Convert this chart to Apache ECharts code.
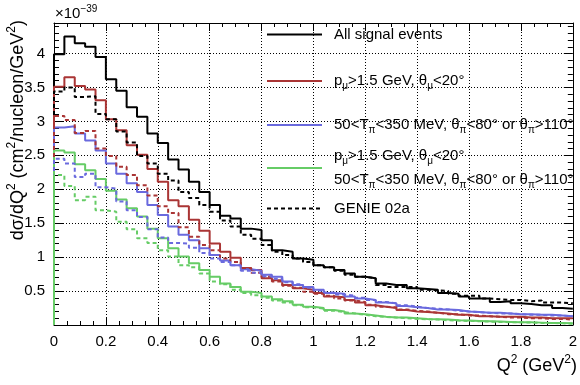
<!DOCTYPE html>
<html>
<head>
<meta charset="utf-8">
<script src="https://cdn.jsdelivr.net/npm/echarts@6/dist/echarts.min.js"></script>
<style>
	html, body { margin: 0; padding: 0; background: #fff; }
	#container { width: 580px; height: 385px; }
</style>
</head>
<body>
<div id="container"></div>
<script>
// Q2 bins: 50 bins of 0.04 GeV2 from 0 to 2
var binWidth = 0.04;
var xTicks = [0, 0.2, 0.4, 0.6, 0.8, 1, 1.2, 1.4, 1.6, 1.8, 2];
var yTicks = [0.5, 1, 1.5, 2, 2.5, 3, 3.5, 4];

// data, x 1e-39 cm2/nucleon/GeV2
var allSignal = [3.99, 4.25, 4.15, 4.10, 3.95, 3.62, 3.45, 3.21, 3.07, 2.82,
	2.68, 2.44, 2.29, 2.11, 1.96, 1.77, 1.61, 1.57, 1.42, 1.40,
	1.25, 1.10, 1.08, 0.98, 0.96, 0.88, 0.85, 0.81, 0.76, 0.71,
	0.69, 0.61, 0.59, 0.59, 0.54, 0.53, 0.52, 0.47, 0.46, 0.42,
	0.39, 0.39, 0.34, 0.35, 0.32, 0.31, 0.29, 0.29, 0.25, 0.24];
var muonCut = [3.51, 3.65, 3.52, 3.47, 3.31, 3.03, 2.87, 2.65, 2.51, 2.30,
	2.11, 1.84, 1.75, 1.55, 1.39, 1.20, 1.08, 0.99, 0.84, 0.81,
	0.69, 0.66, 0.59, 0.54, 0.52, 0.47, 0.42, 0.41, 0.37, 0.33,
	0.29, 0.27, 0.25, 0.22, 0.20, 0.19, 0.18, 0.17, 0.15, 0.15,
	0.13, 0.13, 0.12, 0.12, 0.12, 0.11, 0.11, 0.10, 0.10, 0.10];
var pionCut = [2.91, 2.93, 2.82, 2.72, 2.57, 2.38, 2.23, 2.09, 1.96, 1.77,
	1.62, 1.45, 1.33, 1.25, 1.13, 1.03, 0.95, 0.88, 0.82, 0.80,
	0.74, 0.71, 0.64, 0.59, 0.56, 0.52, 0.47, 0.46, 0.42, 0.39,
	0.37, 0.33, 0.32, 0.28, 0.26, 0.25, 0.23, 0.23, 0.22, 0.20,
	0.19, 0.18, 0.18, 0.17, 0.16, 0.16, 0.15, 0.15, 0.14, 0.13];
var bothCuts = [2.57, 2.54, 2.37, 2.28, 2.15, 1.98, 1.85, 1.72, 1.60, 1.42,
	1.28, 1.13, 1.01, 0.91, 0.81, 0.71, 0.61, 0.56, 0.49, 0.47,
	0.42, 0.38, 0.35, 0.30, 0.27, 0.25, 0.22, 0.20, 0.17, 0.16,
	0.14, 0.12, 0.11, 0.11, 0.10, 0.09, 0.085, 0.08, 0.07, 0.065,
	0.06, 0.055, 0.05, 0.045, 0.04, 0.04, 0.035, 0.03, 0.03, 0.025];

// GENIE 02a
var genieAll = [3.44, 3.50, 3.36, 3.37, 3.11, 3.03, 2.85, 2.69, 2.49, 2.38,
	2.23, 2.13, 1.96, 1.87, 1.77, 1.67, 1.54, 1.45, 1.33, 1.27,
	1.18, 1.08, 1.03, 0.98, 0.93, 0.88, 0.85, 0.80, 0.74, 0.71,
	0.69, 0.59, 0.56, 0.56, 0.56, 0.52, 0.51, 0.50, 0.46, 0.43,
	0.43, 0.39, 0.38, 0.37, 0.37, 0.35, 0.36, 0.33, 0.33, 0.32];
var genieMuon = [3.08, 3.02, 2.83, 2.86, 2.60, 2.49, 2.33, 2.21, 2.06, 1.91,
	1.75, 1.65, 1.44, 1.30, 1.18, 1.10, 0.98, 0.93, 0.84, 0.77,
	0.71, 0.64, 0.58, 0.55, 0.49, 0.46, 0.43, 0.39, 0.36, 0.34,
	0.30, 0.27, 0.26, 0.23, 0.21, 0.20, 0.18, 0.16, 0.16, 0.14,
	0.14, 0.13, 0.12, 0.11, 0.11, 0.10, 0.10, 0.09, 0.09, 0.08];
var geniePion = [2.45, 2.38, 2.18, 2.23, 2.03, 2.01, 1.82, 1.69, 1.59, 1.41,
	1.29, 1.21, 1.20, 1.14, 1.06, 0.98, 0.93, 0.88, 0.80, 0.77,
	0.72, 0.68, 0.63, 0.60, 0.55, 0.51, 0.48, 0.45, 0.43, 0.40,
	0.37, 0.34, 0.32, 0.29, 0.27, 0.25, 0.24, 0.23, 0.21, 0.20,
	0.19, 0.18, 0.17, 0.17, 0.16, 0.15, 0.15, 0.14, 0.14, 0.13];
var genieBoth = [2.21, 2.05, 1.84, 1.89, 1.69, 1.67, 1.52, 1.41, 1.28, 1.21,
	1.10, 1.01, 0.88, 0.85, 0.76, 0.64, 0.60, 0.52, 0.47, 0.44,
	0.40, 0.36, 0.33, 0.29, 0.26, 0.24, 0.21, 0.19, 0.17, 0.15,
	0.13, 0.12, 0.11, 0.10, 0.09, 0.085, 0.08, 0.07, 0.065, 0.06,
	0.055, 0.05, 0.045, 0.04, 0.04, 0.035, 0.03, 0.03, 0.025, 0.02];

var fuente = 'Liberation Sans, Arial, Helvetica, sans-serif';
var negro = '#000000';
var rojo = '#aa3535';
var azul = '#6a6ade';
var verde = '#66cc66';

// histogram as step line: bin edges -> values
function histo(valores) {
	var puntos = [[0, 0]];
	valores.forEach((v, i) => {
		puntos.push([Number((i * binWidth).toFixed(2)), v]);
	});
	puntos.push([Number((valores.length * binWidth).toFixed(2)), valores[valores.length - 1]]);
	return puntos;
}

function serie(nombre, valores, color, punteada) {
	return {
		name: nombre,
		type: 'line',
		step: 'end',
		symbol: 'none',
		silent: true,
		lineStyle: { color: color, width: 2, type: punteada ? [4, 3] : 'solid' },
		itemStyle: { color: color },
		data: histo(valores)
	};
}

var textoLeyenda = {
	'All signal events': '{t|All signal events}',
	'muon': '{t|p}{s|\u03bc}{t|>1.5 GeV, \u03b8}{s|\u03bc}{t|<20\u00b0}',
	'pion': '{t|50<T}{s|\u03c0}{t|<350 MeV, \u03b8}{s|\u03c0}{t|<80\u00b0 or \u03b8}{s|\u03c0}{t|>110\u00b0}',
	'both': '{t|p}{s|\u03bc}{t|>1.5 GeV, \u03b8}{s|\u03bc}{t|<20\u00b0}\n{t|50<T}{s|\u03c0}{t|<350 MeV, \u03b8}{s|\u03c0}{t|<80\u00b0 or \u03b8}{s|\u03c0}{t|>110\u00b0}',
	'GENIE 02a': '{t|GENIE 02a}'
};

function leyenda(nombre, top) {
	return {
		data: [nombre],
		left: 266,
		top: top,
		padding: 0,
		itemWidth: 55,
		itemHeight: 14,
		selectedMode: false,
		itemStyle: { opacity: 0 },
		formatter: function (n) { return textoLeyenda[n]; },
		textStyle: {
			padding: [0, 0, 0, 7],
			rich: {
				t: { fontFamily: fuente, fontSize: 15, color: negro, lineHeight: 24, verticalAlign: 'middle' },
				s: { fontFamily: fuente, fontSize: 10, color: negro, lineHeight: 12, padding: [10, 0, 0, 0], verticalAlign: 'middle' }
			}
		}
	};
}

var ejeX = {
	type: 'value',
	min: 0,
	max: 2,
	interval: 0.2,
	axisLine: { show: true, onZero: false, lineStyle: { color: negro, width: 1 } },
	axisTick: { show: true, inside: true, length: 8, lineStyle: { color: negro } },
	minorTick: { show: true, splitNumber: 4, length: 4, lineStyle: { color: negro } }
};

var ejeY = {
	type: 'value',
	min: 0,
	max: 4.45,
	interval: 0.5,
	axisLine: { show: true, onZero: false, lineStyle: { color: negro, width: 1 } },
	axisTick: { show: true, inside: true, length: 9, lineStyle: { color: negro } },
	minorTick: { show: true, splitNumber: 5, length: 5, lineStyle: { color: negro } }
};

var dom = document.getElementById('container');
var myChart = echarts.init(dom, null, { renderer: 'canvas' });

var option = {
	animation: false,
	backgroundColor: '#ffffff',
	grid: { left: 54, right: 3, top: 23, bottom: 60, containLabel: false },
	legend: [
		leyenda('All signal events', 27),
		leyenda('muon', 71),
		leyenda('pion', 115),
		leyenda('both', 146),
		leyenda('GENIE 02a', 201)
	],
	xAxis: [
		Object.assign({}, ejeX, {
			position: 'bottom',
			axisLabel: {
				color: negro, fontFamily: fuente, fontSize: 15, margin: 9,
				formatter: function (v) { return xTicks.indexOf(Number(v.toFixed(2))) >= 0 ? String(Number(v.toFixed(2))) : ''; }
			},
			splitLine: { show: true, lineStyle: { color: negro, width: 1, type: [1, 2] } }
		}),
		Object.assign({}, ejeX, {
			position: 'top',
			axisLabel: { show: false },
			splitLine: { show: false }
		})
	],
	yAxis: [
		Object.assign({}, ejeY, {
			position: 'left',
			axisLabel: {
				color: negro, fontFamily: fuente, fontSize: 15, margin: 9,
				formatter: function (v) { return yTicks.indexOf(Number(v.toFixed(2))) >= 0 ? String(Number(v.toFixed(2))) : ''; }
			},
			splitLine: { show: true, lineStyle: { color: negro, width: 1, type: [1, 2] } }
		}),
		Object.assign({}, ejeY, {
			position: 'right',
			axisLabel: { show: false },
			splitLine: { show: false }
		})
	],
	graphic: [
		{
			type: 'text',
			x: 55,
			y: 14,
			style: {
				text: '{a|\u00d710}{b|\u221239}',
				align: 'left',
				verticalAlign: 'middle',
				rich: {
					a: { fontFamily: fuente, fontSize: 15, fill: negro, verticalAlign: 'middle' },
					b: { fontFamily: fuente, fontSize: 10, fill: negro, padding: [0, 0, 10, 0], verticalAlign: 'middle' }
				}
			}
		},
		{
			type: 'text',
			x: 18,
			y: 20,
			rotation: Math.PI / 2,
			style: {
				text: '{a|d\u03c3/dQ}{b|2}{a| (cm}{b|2}{a|/nucleon/GeV}{b|2}{a|)}',
				align: 'right',
				verticalAlign: 'middle',
				rich: {
					a: { fontFamily: fuente, fontSize: 18, fill: negro, verticalAlign: 'middle' },
					b: { fontFamily: fuente, fontSize: 12, fill: negro, padding: [0, 0, 12, 0], verticalAlign: 'middle' }
				}
			}
		},
		{
			type: 'text',
			x: 577,
			y: 366,
			style: {
				text: '{a|Q}{b|2}{a| (GeV}{b|2}{a|)}',
				align: 'right',
				verticalAlign: 'middle',
				rich: {
					a: { fontFamily: fuente, fontSize: 18, fill: negro, verticalAlign: 'middle' },
					b: { fontFamily: fuente, fontSize: 12, fill: negro, padding: [0, 0, 12, 0], verticalAlign: 'middle' }
				}
			}
		}
	],
	series: [
		serie('All signal events', allSignal, negro, false),
		serie('muon', muonCut, rojo, false),
		serie('pion', pionCut, azul, false),
		serie('both', bothCuts, verde, false),
		serie('GENIE 02a', genieAll, negro, true),
		serie('GENIE muon', genieMuon, rojo, true),
		serie('GENIE pion', geniePion, azul, true),
		serie('GENIE both', genieBoth, verde, true)
	]
};

if (option && typeof option === 'object') {
	myChart.setOption(option, true);
}
</script>
</body>
</html>
